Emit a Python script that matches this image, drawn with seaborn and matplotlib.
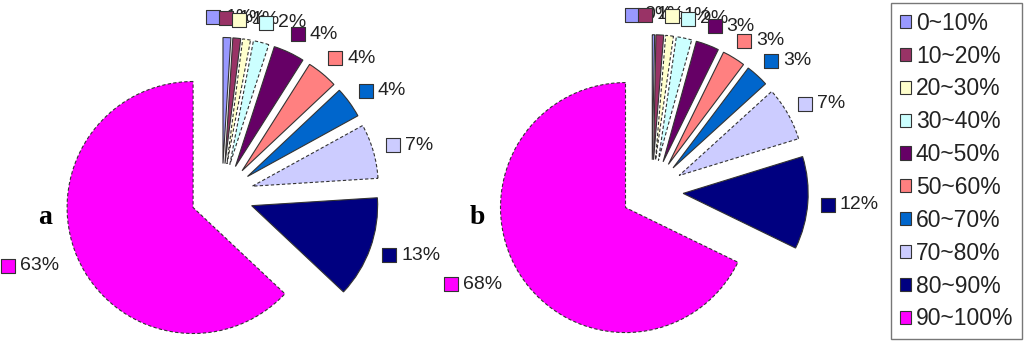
import numpy as np
import matplotlib
matplotlib.use("Agg")
import matplotlib.pyplot as plt
from matplotlib.patches import Patch
import seaborn as sns

# ---------------- data ----------------
categories = ["0~10%", "10~20%", "20~30%", "30~40%", "40~50%",
              "50~60%", "60~70%", "70~80%", "80~90%", "90~100%"]
share_a = [1, 1, 1, 2, 4, 4, 4, 7, 13, 63]
share_b = [0.3, 1, 1, 2, 3, 3, 3, 7, 12, 68]
panel_letters = ["a", "b"]
slice_colors = ["#9999FF", "#993366", "#FFFFCC", "#CCFFFF", "#660066",
                "#FF8080", "#0066CC", "#CCCCFF", "#000080", "#FF00FF"]

# ---------------- style ----------------
sns.set_theme(style="white")
plt.rcParams["font.family"] = ["Liberation Sans", "DejaVu Sans"]
palette = sns.color_palette(slice_colors)

W, H = 1025, 343
fig = plt.figure(figsize=(W / 100, H / 100), dpi=100)
ax = fig.add_axes([0, 0, 1, 1])

dashed = {2, 3, 7, 9}
panels = [(share_a, (222, 148), 126), (share_b, (652, 152), 125)]
letter_pos = [(45, 125), (477, 125)]
EXPLODE = 0.25
LABEL_FS = 14
TEXT_GAP = 12
MARK_S = 88
EDGE = "#333333"

fig.canvas.draw()
renderer = fig.canvas.get_renderer()

for (vals, ctr, rad), letter, lpos in zip(panels, panel_letters, letter_pos):
    wedges, _ = ax.pie(vals, colors=palette, startangle=90, counterclock=False,
                       explode=[EXPLODE * rad] * len(vals), radius=rad, center=ctr,
                       wedgeprops=dict(edgecolor=EDGE, linewidth=0.8),
                       normalize=True)
    for i, w in enumerate(wedges):
        if i in dashed:
            w.set_linestyle((0, (3, 2)))

    D = rad * 1.41
    anchors = []
    for w in wedges:
        th = np.deg2rad((w.theta1 + w.theta2) / 2)
        anchors.append([ctr[0] + D * np.cos(th), ctr[1] + D * np.sin(th), np.cos(th)])
    # keep crowded labels on the upper right from piling up
    pushed = [False] * len(anchors)
    for i in range(len(anchors) - 2, -1, -1):
        a0, a1 = anchors[i], anchors[i + 1]
        if a0[2] > 0 and a1[2] > 0 and abs(a0[1] - a1[1]) < 15:
            gap = 13 if pushed[i + 1] else 27
            if a0[0] > a1[0] - gap:
                a0[0] = a1[0] - gap
                pushed[i] = True

    for i, (w, (x, y, c), v) in enumerate(zip(wedges, anchors, vals)):
        lab = f"{v:.0f}%"
        col = palette[i]
        if c >= 0:
            mx = x
            ax.text(x + TEXT_GAP, y, lab, ha="left", va="center",
                    fontsize=LABEL_FS, color="#222222", zorder=10 + 2 * i)
        else:
            t = ax.text(x, y, lab, ha="right", va="center",
                        fontsize=LABEL_FS, color="#222222", zorder=10 + 2 * i)
            wpx = t.get_window_extent(renderer=renderer).width
            mx = x - wpx - TEXT_GAP
        ax.scatter([mx], [y], marker="s", s=MARK_S, color=[col],
                   edgecolors=EDGE, linewidths=0.8, zorder=11 + 2 * i)

    ax.text(lpos[0], lpos[1], letter, family=["Liberation Serif", "DejaVu Serif"],
            fontweight="bold", fontsize=20, ha="center", va="center", color="black")

ax.set_xlim(0, W)
ax.set_ylim(0, H)
ax.set_aspect("auto")
ax.axis("off")

handles = [Patch(facecolor=c, edgecolor=EDGE, linewidth=0.8) for c in palette]
leg = ax.legend(handles, categories, loc="upper right",
                bbox_to_anchor=(1022 / W, 1 - 3 / H), bbox_transform=fig.transFigure,
                borderaxespad=0, fontsize=16.5, handlelength=0.5, handleheight=0.5,
                handletextpad=0.2, labelspacing=0.43, borderpad=0.38,
                frameon=True, fancybox=False, edgecolor="#555555")
leg.get_frame().set_linewidth(1.0)
for t in leg.get_texts():
    t.set_color("#222222")

fig.savefig("out.png", dpi=100)
